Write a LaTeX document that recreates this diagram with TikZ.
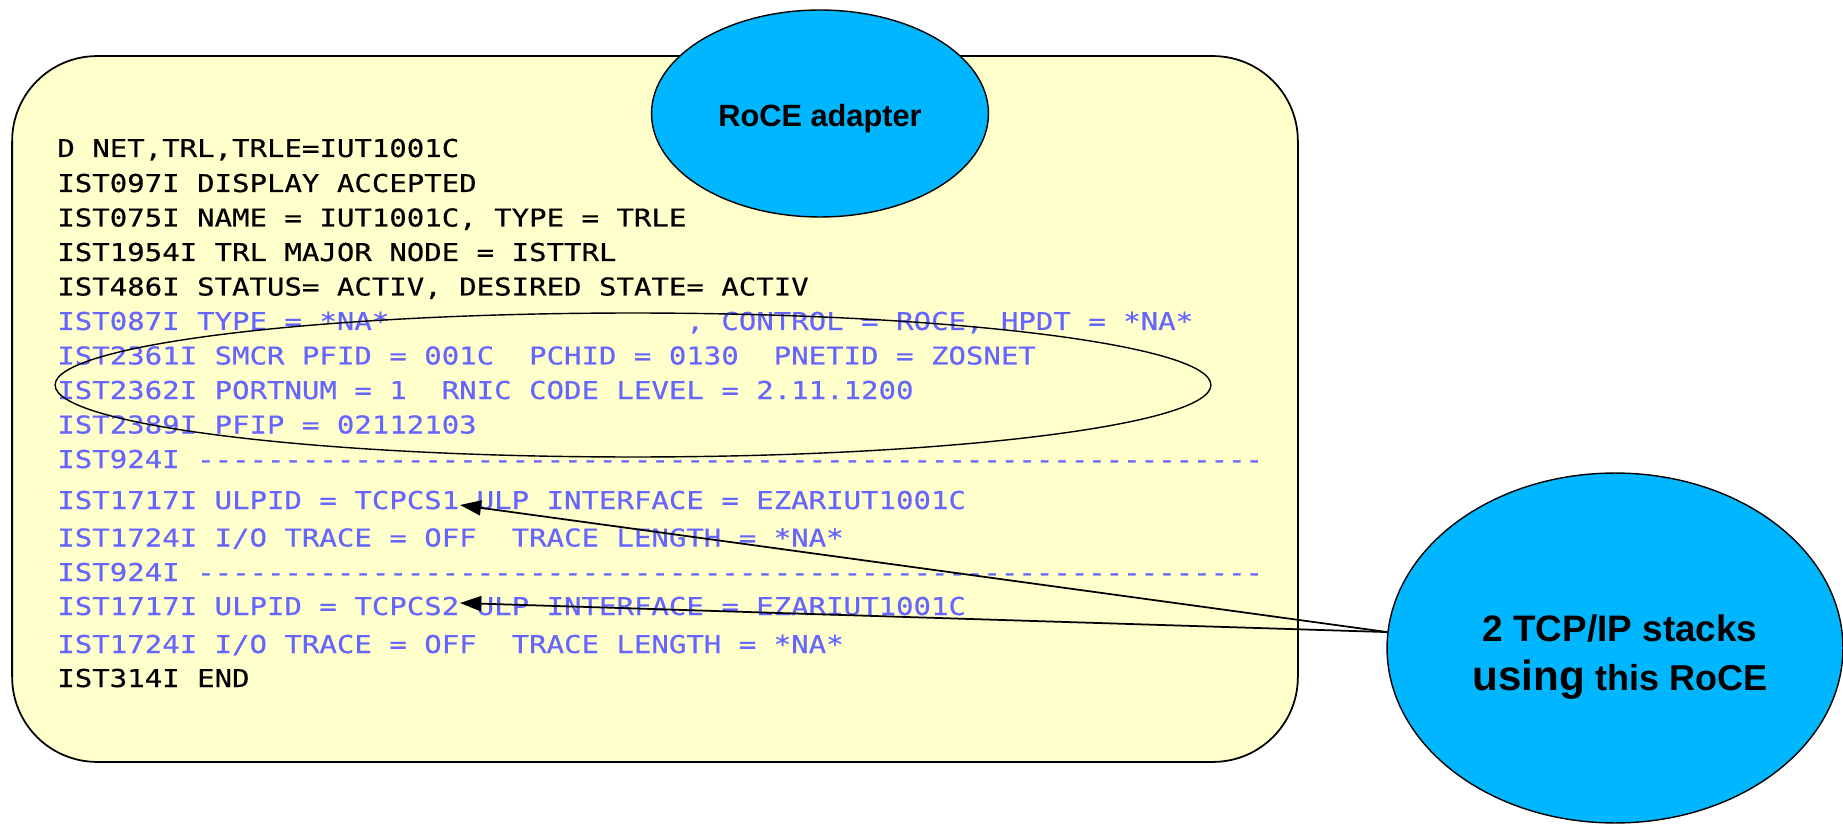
\documentclass[tikz,border=0pt]{standalone}
\usepackage{fontspec}
\setmainfont{Liberation Sans}
\setmonofont[FakeStretch=1.18,FakeBold=0.5]{DejaVu Sans Mono}
\usetikzlibrary{shapes.geometric,arrows.meta}
\definecolor{boxfill}{RGB}{255,255,204}
\definecolor{rocefill}{RGB}{0,183,255}
\definecolor{msgblue}{RGB}{102,102,255}
\begin{document}
\begin{tikzpicture}[x=0.02cm,y=-0.02cm,
  cons/.style={anchor=base west, inner sep=0pt, font=\ttfamily\fontsize{14pt}{14pt}\selectfont},
  blk/.style={cons, text=black},
  blu/.style={cons, text=msgblue},
  bubble/.style={ellipse, draw=black, line width=0.8pt, fill=rocefill, inner sep=0pt},
  btext/.style={anchor=base, inner sep=0pt, font=\bfseries\fontsize{#1}{#1}\selectfont},
  ptr/.style={line width=1pt, -{Triangle[length=12pt,width=8.5pt]}}
]
\useasboundingbox (0,0) rectangle (1843,824);

% display panel
\node[draw=black, line width=1pt, fill=boxfill, rounded corners=1.7cm,
      minimum width=25.72cm, minimum height=14.12cm, inner sep=0pt] (panel) at (655,409) {};

% RoCE adapter bubble
\node[bubble, minimum width=6.74cm, minimum height=4.14cm] (roce) at (820,113.5) {};
\node[btext=17.5pt] (rocetxt) at (820,127) {RoCE adapter};

% message lines
\node[blk] (l1)  at (57,157.0) {D NET,TRL,TRLE=IUT1001C};
\node[blk] (l2)  at (57,192.0) {IST097I DISPLAY ACCEPTED};
\node[blk] (l3)  at (57,226.5) {IST075I NAME = IUT1001C, TYPE = TRLE};
\node[blk] (l4)  at (57,261.0) {IST1954I TRL MAJOR NODE = ISTTRL};
\node[blk] (l5)  at (57,295.5) {IST486I STATUS= ACTIV, DESIRED STATE= ACTIV};
\node[blu] (l6)  at (57,330.0) {IST087I TYPE = *NA*~~~~~~~~~~~~~~~~~, CONTROL = ROCE, HPDT = *NA*};
\node[blu] (l7)  at (57,364.5) {IST2361I SMCR PFID = 001C~~PCHID = 0130~~PNETID = ZOSNET};
\node[blu] (l8)  at (57,399.0) {IST2362I PORTNUM = 1~~RNIC CODE LEVEL = 2.11.1200};
\node[blu] (l9)  at (57,433.5) {IST2389I PFIP = 02112103};
\node[blu] (l10) at (57,468.0) {IST924I -------------------------------------------------------------};
\node[blu] (l11) at (57,509.0) {IST1717I ULPID = TCPCS1 ULP INTERFACE = EZARIUT1001C};
\node[blu] (l12) at (57,546.5) {IST1724I I/O TRACE = OFF~~TRACE LENGTH = *NA*};
\node[blu] (l13) at (57,581.0) {IST924I -------------------------------------------------------------};
\node[blu] (l14) at (57,615.0) {IST1717I ULPID = TCPCS2 ULP INTERFACE = EZARIUT1001C};
\node[blu] (l15) at (57,653.0) {IST1724I I/O TRACE = OFF~~TRACE LENGTH = *NA*};
\node[blk] (l16) at (57,687.0) {IST314I END};

% highlight ring
\node[ellipse, draw=black, line width=0.8pt, minimum width=23.12cm, minimum height=2.88cm, inner sep=0pt] (ring) at (633,385) {};

% TCP/IP stacks bubble
\node[bubble, minimum width=9.12cm, minimum height=7cm] (stacks) at (1615,648) {};
\node[btext=21pt] (st1) at (1620,641) {2 TCP/IP stacks};
\node[btext=20.5pt] (st2) at (1620,690) {{\fontsize{24pt}{24pt}\selectfont using} this RoCE};

% pointers
\coordinate (t1) at (460,505);
\coordinate (t2) at (460,603);
\draw[ptr] (stacks.176) -- (t1);
\draw[ptr] (stacks.176) -- (t2);
\end{tikzpicture}
\end{document}
